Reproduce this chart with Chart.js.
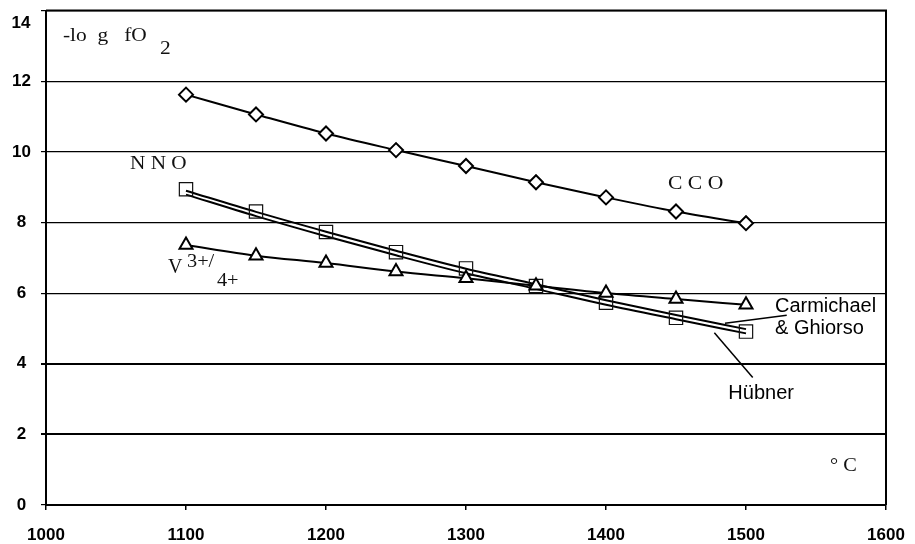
<!DOCTYPE html>
<html>
<head>
<meta charset="utf-8">
<script src="https://cdn.jsdelivr.net/npm/chart.js@4/dist/chart.umd.min.js"></script>
<style>
  html, body { margin: 0; padding: 0; background: #fff; }
  #wrap { width: 915px; height: 544px; position: relative; }
</style>
</head>
<body>
<div id="wrap"><canvas id="c" width="915" height="544"></canvas></div>
<script>
// ---- data ----
const temperatures = [1100, 1150, 1200, 1250, 1300, 1350, 1400, 1450, 1500];
const ccoValues = [11.62, 11.06, 10.52, 10.05, 9.60, 9.14, 8.71, 8.31, 7.98];
const nnoPoints = [8.94, 8.31, 7.73, 7.16, 6.70, 6.20, 5.73, 5.30, 4.91];
const carmichaelGhiorso = [8.90, 8.30, 7.74, 7.20, 6.69, 6.25, 5.80, 5.38, 4.98];
const hubner = [8.79, 8.18, 7.61, 7.07, 6.56, 6.12, 5.67, 5.26, 4.86];
const vanadiumValues = [7.36, 7.06, 6.85, 6.61, 6.42, 6.21, 6.00, 5.83, 5.67];
const xTicks = [1000, 1100, 1200, 1300, 1400, 1500, 1600];
const yTicks = [0, 2, 4, 6, 8, 10, 12, 14];

const pts = (ys) => temperatures.map((t, i) => ({x: t, y: ys[i]}));

const serif = '"Liberation Serif", "Times New Roman", serif';
const sans = '"Liberation Sans", Arial, sans-serif';

// annotations anchored in data coordinates (sx = horizontal stretch of the original lettering)
const annotations = [
  {text: '-lo  g   fO', x: 1012.1, y: 13.15, font: '18px ' + serif, color: '#111', sx: 1.19},
  {text: '2', x: 1081.4, y: 12.76, font: '18px ' + serif, color: '#111', sx: 1.19},
  {text: 'N N O', x: 1060, y: 9.52, font: '18px ' + serif, color: '#111', sx: 1.18},
  {text: 'C C O', x: 1444.3, y: 8.94, font: '18px ' + serif, color: '#111', sx: 1.2},
  {text: 'V', x: 1087.1, y: 6.57, font: '20px ' + serif, color: '#111', sx: 1.0},
  {text: '3+/', x: 1100.7, y: 6.73, font: '18px ' + serif, color: '#111', sx: 1.13},
  {text: '4+', x: 1122.1, y: 6.20, font: '18px ' + serif, color: '#111', sx: 1.13},
  {text: '° C', x: 1560, y: 0.96, font: '18px ' + serif, color: '#111', sx: 1.13},
  {text: 'Carmichael', x: 1520.7, y: 5.46, font: '20px ' + sans, color: '#000', sx: 1},
  {text: '& Ghiorso', x: 1520.7, y: 4.84, font: '20px ' + sans, color: '#000', sx: 1},
  {text: 'Hübner', x: 1487.4, y: 3.01, font: '20px ' + sans, color: '#000', sx: 1}
];
const pointers = [
  {x1: 1485, y1: 5.15, x2: 1529.1, y2: 5.37},
  {x1: 1477.4, y1: 4.88, x2: 1504.8, y2: 3.61}
];

const framePlugin = {
  id: 'frame',
  beforeDatasetsDraw(chart) {
    const {ctx, chartArea: a} = chart;
    ctx.save();
    ctx.strokeStyle = '#000';
    ctx.lineWidth = 2;
    ctx.beginPath();
    ctx.moveTo(a.left, a.top);
    ctx.lineTo(a.right, a.top);
    ctx.lineTo(a.right, a.bottom);
    ctx.stroke();
    ctx.restore();
  },
  afterDraw(chart) {
    const {ctx} = chart;
    const xs = chart.scales.x, ys = chart.scales.y;
    ctx.save();
    ctx.textBaseline = 'alphabetic';
    ctx.textAlign = 'left';
    annotations.forEach(a => {
      ctx.save();
      ctx.font = a.font;
      ctx.fillStyle = a.color;
      ctx.translate(xs.getPixelForValue(a.x), ys.getPixelForValue(a.y));
      ctx.scale(a.sx, 1);
      ctx.fillText(a.text, 0, 0);
      ctx.restore();
    });
    ctx.strokeStyle = '#000';
    ctx.lineWidth = 1.5;
    pointers.forEach(p => {
      ctx.beginPath();
      ctx.moveTo(xs.getPixelForValue(p.x1), ys.getPixelForValue(p.y1));
      ctx.lineTo(xs.getPixelForValue(p.x2), ys.getPixelForValue(p.y2));
      ctx.stroke();
    });
    // top tick label "14" sits lower than its gridline, as in the original
    ctx.font = 'bold 17px ' + sans;
    ctx.fillStyle = '#000';
    ctx.textAlign = 'center';
    ctx.textBaseline = 'middle';
    ctx.fillText(String(yTicks[yTicks.length - 1]), 21, ys.getPixelForValue(yTicks[yTicks.length - 1]) + 13);
    ctx.restore();
  }
};

new Chart(document.getElementById('c'), {
  type: 'line',
  data: {
    datasets: [
      {label: 'CCO', data: pts(ccoValues), borderColor: '#000', borderWidth: 2,
       pointStyle: 'rectRot', pointRadius: 7, pointBorderWidth: 2, pointBorderColor: '#000',
       pointBackgroundColor: '#fff', cubicInterpolationMode: 'monotone', order: 1},
      {label: 'Carmichael & Ghiorso', data: pts(carmichaelGhiorso), borderColor: '#000', borderWidth: 2,
       pointRadius: 0, cubicInterpolationMode: 'monotone', order: 3},
      {label: 'Hübner', data: pts(hubner), borderColor: '#000', borderWidth: 2,
       pointRadius: 0, cubicInterpolationMode: 'monotone', order: 3},
      {label: 'NNO', data: pts(nnoPoints), showLine: false,
       pointStyle: 'rect', pointRadius: 9.4, pointBorderWidth: 1.2, pointBorderColor: '#111',
       pointBackgroundColor: 'rgba(0,0,0,0)', order: 2},
      {label: 'V3+/4+', data: pts(vanadiumValues), borderColor: '#000', borderWidth: 2,
       pointStyle: 'triangle', pointRadius: 7.5, pointBorderWidth: 2, pointBorderColor: '#000',
       pointBackgroundColor: '#fff', cubicInterpolationMode: 'monotone', order: 0}
    ]
  },
  options: {
    responsive: false,
    animation: false,
    devicePixelRatio: 1,
    layout: {padding: {left: 0, right: 29, top: 7, bottom: 0}},
    plugins: {legend: {display: false}, tooltip: {enabled: false}},
    scales: {
      x: {
        type: 'linear', position: 'bottom', min: xTicks[0], max: xTicks[xTicks.length - 1],
        afterBuildTicks: (s) => { s.ticks = xTicks.map(v => ({value: v})); },
        afterFit: (s) => { s.height = 39; s.paddingLeft = 0; s.paddingRight = 0; },
        grid: {drawOnChartArea: false, drawTicks: true, tickLength: 5, color: '#000', lineWidth: 1.5},
        border: {display: true, color: '#000', width: 2},
        ticks: {color: '#000', padding: 17, maxRotation: 0, autoSkip: false,
                font: {family: sans, size: 17, weight: 'bold', lineHeight: 1},
                callback: (v) => String(v)}
      },
      y: {
        type: 'linear', min: yTicks[0], max: yTicks[yTicks.length - 1],
        afterBuildTicks: (s) => { s.ticks = yTicks.map(v => ({value: v})); },
        afterFit: (s) => { s.width = 46; s.paddingTop = 0; s.paddingBottom = 0; },
        grid: {
          drawTicks: true, tickLength: 5, tickColor: '#000',
          color: '#000',
          lineWidth: (c) => (c.tick && (c.tick.value === 4 || c.tick.value === 2)) ? 2 : 1.2
        },
        border: {display: true, color: '#000', width: 2},
        ticks: {
          color: '#000', padding: 10, crossAlign: 'center', autoSkip: false,
          font: {family: sans, size: 17, weight: 'bold', lineHeight: 0.9},
          callback: (v) => v === yTicks[yTicks.length - 1] ? '' : String(v)
        }
      }
    }
  },
  plugins: [framePlugin]
});
</script>
</body>
</html>
